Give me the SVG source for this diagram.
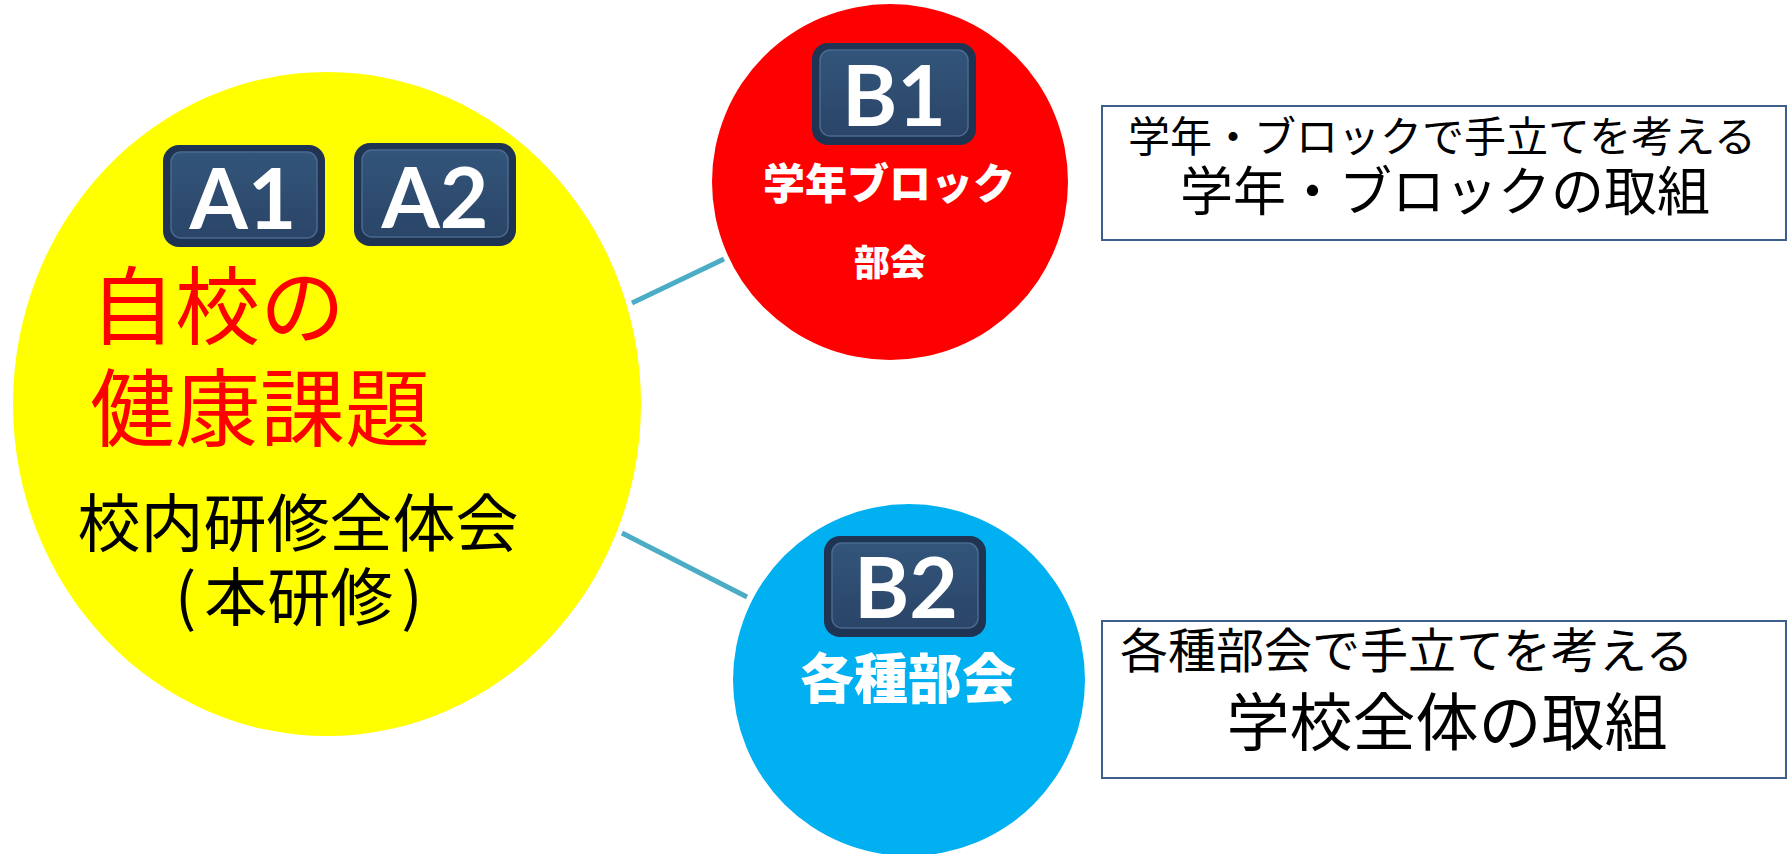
<svg xmlns="http://www.w3.org/2000/svg" width="1789" height="854" viewBox="0 0 1789 854">
<defs>
<linearGradient id="badgeGrad" x1="0" y1="0" x2="0" y2="1">
<stop offset="0" stop-color="#33557a"/>
<stop offset="1" stop-color="#2a4568"/>
</linearGradient>
</defs>
<style>
.badge-outer{fill:#1f3452;}
.badge-inner{fill:url(#badgeGrad);stroke:#4a6a90;stroke-width:1.5;}
.badge-text{font-family:Lato,"Open Sans",sans-serif;font-weight:700;fill:#ffffff;text-anchor:middle;}
.jp{font-family:"Noto Sans CJK JP",sans-serif;}
.wlabel{font-family:"Noto Sans CJK JP",sans-serif;font-weight:900;fill:#ffffff;text-anchor:middle;}
.box{fill:#ffffff;stroke:#3c5f8c;stroke-width:2;}
.conn{stroke:#4bacc6;stroke-width:5;fill:none;}
</style>
<rect width="1789" height="854" fill="#ffffff"/>
<g id="connectors">
<line class="conn" x1="632" y1="303" x2="724" y2="259"/>
<line class="conn" x1="622" y1="533" x2="747" y2="597"/>
</g>
<g id="node-a">
<ellipse cx="327" cy="404" rx="314" ry="332" fill="#ffff00"/>
<g id="badge-a1">
<rect class="badge-outer" x="163" y="145" width="162" height="102" rx="16"/>
<rect class="badge-inner" x="171" y="152" width="146" height="86" rx="10"/>
<text class="badge-text" x="243" y="229" font-size="84">A1</text>
</g>
<g id="badge-a2">
<rect class="badge-outer" x="354" y="143" width="162" height="103" rx="16"/>
<rect class="badge-inner" x="362" y="150" width="146" height="87" rx="10"/>
<text class="badge-text" x="435" y="228" font-size="84">A2</text>
</g>
<text class="jp" x="90" y="338" font-size="85" fill="#ff0000">自校の</text>
<text class="jp" x="90" y="440" font-size="85" fill="#ff0000">健康課題</text>
<text class="jp" x="298" y="546" font-size="63" fill="#000000" text-anchor="middle">校内研修全体会</text>
<text class="jp" x="175" y="620" font-size="63" fill="#000000">(<tspan dx="8">本研修</tspan><tspan dx="8">)</tspan></text>
</g>
<g id="node-b1">
<circle cx="890" cy="182" r="178" fill="#ff0000"/>
<rect class="badge-outer" x="812" y="43" width="164" height="102" rx="16"/>
<rect class="badge-inner" x="820" y="50" width="148" height="86" rx="10"/>
<text class="badge-text" x="894" y="126" font-size="84">B1</text>
<text class="wlabel" x="889" y="199" font-size="42">学年ブロック</text>
<text class="wlabel" x="890" y="276" font-size="36">部会</text>
</g>
<g id="node-b2">
<circle cx="909" cy="680" r="176" fill="#00b0f0"/>
<rect class="badge-outer" x="824" y="536" width="162" height="101" rx="16"/>
<rect class="badge-inner" x="832" y="543" width="146" height="85" rx="10"/>
<text class="badge-text" x="906" y="618" font-size="84">B2</text>
<text class="wlabel" x="908" y="699" font-size="54">各種部会</text>
</g>
<g id="box-b1">
<rect class="box" x="1102" y="106" width="684" height="134"/>
<text class="jp" x="1442" y="152" font-size="42" fill="#000000" text-anchor="middle">学年・ブロックで手立てを考える</text>
<text class="jp" x="1445" y="211" font-size="53" fill="#000000" text-anchor="middle">学年・ブロックの取組</text>
</g>
<g id="box-b2">
<rect class="box" x="1102" y="621" width="684" height="157"/>
<text class="jp" x="1120" y="668" font-size="48" fill="#000000">各種部会で手立てを考える</text>
<text class="jp" x="1447" y="745" font-size="63" fill="#000000" text-anchor="middle">学校全体の取組</text>
</g>
</svg>
